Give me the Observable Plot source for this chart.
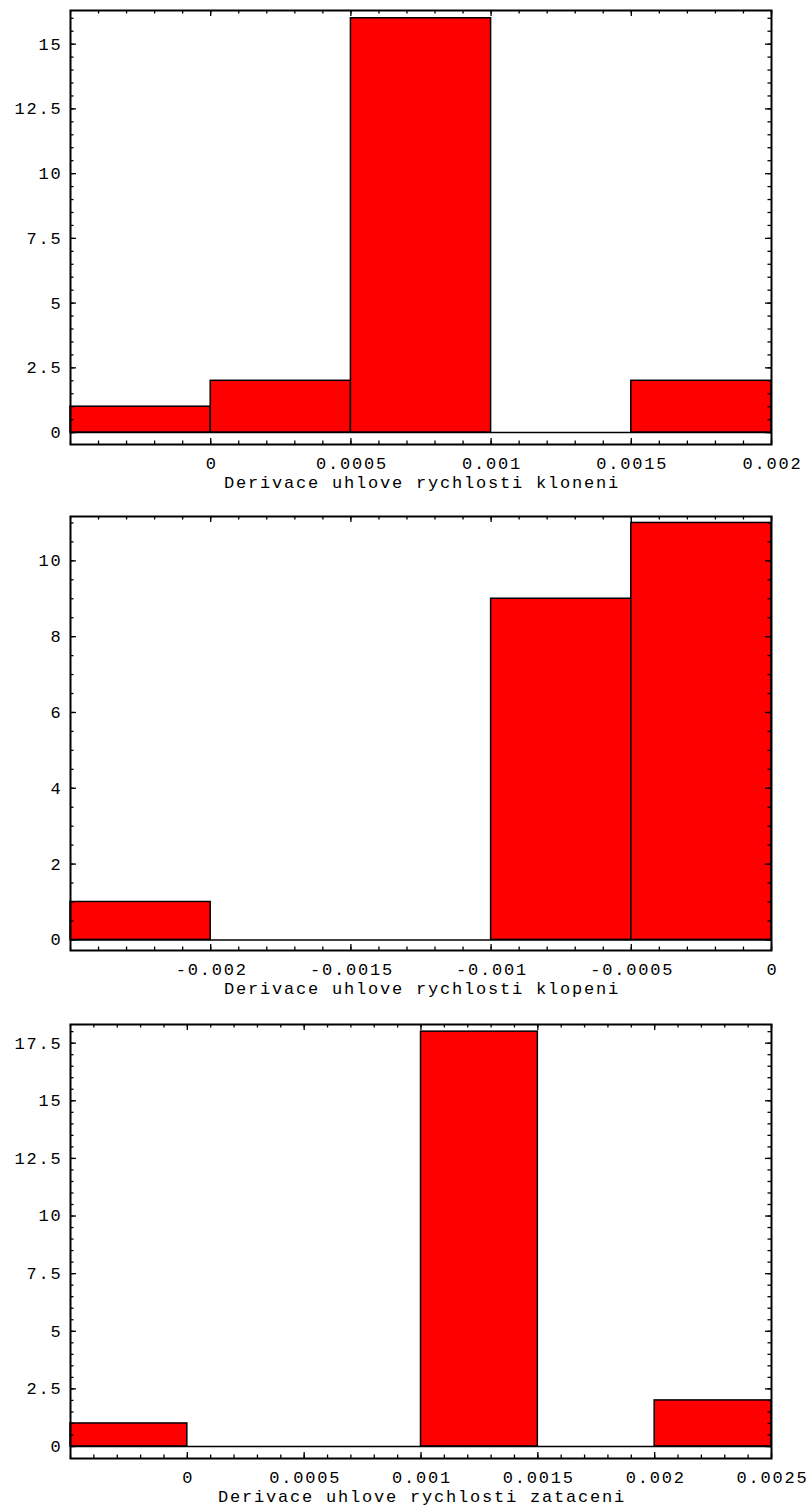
<!DOCTYPE html>
<html>
<head>
<meta charset="utf-8">
<script src="https://cdn.jsdelivr.net/npm/d3@7"></script>
<script src="https://cdn.jsdelivr.net/npm/@observablehq/plot@0.6"></script>
<style>
  html, body { margin: 0; padding: 0; background: white; }
  #charts svg { display: block; }
</style>
</head>
<body>
<div id="charts"></div>
<script>
// Histogram of the roll-rate derivative (kloneni)
const edgesKloneni = [-0.0005, 0, 0.0005, 0.001, 0.0015, 0.002];
const countsKloneni = [1, 2, 16, 0, 2];
const xLabelsKloneni = [0, 0.0005, 0.001, 0.0015, 0.002];
const yLabelsKloneni = [0, 2.5, 5, 7.5, 10, 12.5, 15];

// Histogram of the pitch-rate derivative (klopeni)
const edgesKlopeni = [-0.0025, -0.002, -0.0015, -0.001, -0.0005, 0];
const countsKlopeni = [1, 0, 0, 9, 11];
const xLabelsKlopeni = [-0.002, -0.0015, -0.001, -0.0005, 0];
const yLabelsKlopeni = [0, 2, 4, 6, 8, 10];

// Histogram of the yaw-rate derivative (zataceni)
const edgesZataceni = [-0.0005, 0, 0.0005, 0.001, 0.0015, 0.002, 0.0025];
const countsZataceni = [1, 0, 0, 18, 0, 2];
const xLabelsZataceni = [0, 0.0005, 0.001, 0.0015, 0.002, 0.0025];
const yLabelsZataceni = [0, 2.5, 5, 7.5, 10, 12.5, 15, 17.5];

const titles = [
  "Derivace uhlove rychlosti kloneni",
  "Derivace uhlove rychlosti klopeni",
  "Derivace uhlove rychlosti zataceni"
];

const W = 807, left = 70, right = 36;
const frameW = W - left - right;
const frameH = 434;
const majorLen = 6, minorLen = 3.5;

function steps(a, b, step) {
  const n = Math.round((b - a) / step);
  return d3.range(n + 1).map(i => +(a + i * step).toFixed(6));
}

function histogram({edges, counts, xLabels, yLabels, yDomain, yMinorMax, title, height, marginTop, marginBottom}) {
  const bins = counts.map((c, i) => ({x1: edges[i], x2: edges[i + 1], count: c}));
  const xDomain = [edges[0], edges[edges.length - 1]];
  const xMinor = steps(xDomain[0], xDomain[1], 0.0001);
  const yMinor = steps(0, yMinorMax, 0.5);
  const tickStyle = {stroke: "black", strokeWidth: 1.3};
  return Plot.plot({
    width: W,
    height,
    marginLeft: left,
    marginRight: right,
    marginTop,
    marginBottom,
    style: {fontFamily: "'Liberation Mono', 'DejaVu Sans Mono', monospace", fontSize: "17px", letterSpacing: "1.8px", background: "white", color: "black", overflow: "visible"},
    x: {domain: xDomain},
    y: {domain: yDomain},
    marks: [
      Plot.rect(bins, {x1: "x1", x2: "x2", y1: 0, y2: "count", fill: "#ff0000", stroke: "black", strokeWidth: 1.5}),
      Plot.ruleY([0], {stroke: "black", strokeWidth: 1.5}),
      // inward frame ticks: bottom, top, left, right
      Plot.tickX(xMinor, {x: d => d, insetTop: frameH - minorLen, ...tickStyle}),
      Plot.tickX(xLabels, {x: d => d, insetTop: frameH - majorLen, ...tickStyle}),
      Plot.tickX(xMinor, {x: d => d, insetBottom: frameH - minorLen, ...tickStyle}),
      Plot.tickX(xLabels, {x: d => d, insetBottom: frameH - majorLen, ...tickStyle}),
      Plot.tickY(yMinor, {y: d => d, insetRight: frameW - minorLen, ...tickStyle}),
      Plot.tickY(yLabels, {y: d => d, insetRight: frameW - majorLen, ...tickStyle}),
      Plot.tickY(yMinor, {y: d => d, insetLeft: frameW - minorLen, ...tickStyle}),
      Plot.tickY(yLabels, {y: d => d, insetLeft: frameW - majorLen, ...tickStyle}),
      Plot.frame({stroke: "black", strokeWidth: 2}),
      Plot.axisX({anchor: "bottom", ticks: xLabels, tickSize: 0, tickPadding: 12, dx: 1, tickFormat: d => String(d), label: null, fill: "#000"}),
      Plot.axisY({anchor: "left", ticks: yLabels, tickSize: 0, tickPadding: 8, tickFormat: d => String(d), label: null, fill: "#000"}),
      Plot.text([title], {text: d => d, frameAnchor: "bottom", dy: 38, dx: 1, lineAnchor: "middle", fill: "#000"})
    ]
  });
}

const host = document.getElementById("charts");
host.append(histogram({
  edges: edgesKloneni, counts: countsKloneni, xLabels: xLabelsKloneni, yLabels: yLabelsKloneni,
  yDomain: [-0.46, 16.3], yMinorMax: 16, title: titles[0],
  height: 500, marginTop: 10, marginBottom: 56
}));
host.append(histogram({
  edges: edgesKlopeni, counts: countsKlopeni, xLabels: xLabelsKlopeni, yLabels: yLabelsKlopeni,
  yDomain: [-0.28, 11.17], yMinorMax: 11, title: titles[1],
  height: 510, marginTop: 16, marginBottom: 60
}));
host.append(histogram({
  edges: edgesZataceni, counts: countsZataceni, xLabels: xLabelsZataceni, yLabels: yLabelsZataceni,
  yDomain: [-0.52, 18.31], yMinorMax: 18, title: titles[2],
  height: 496, marginTop: 14, marginBottom: 48
}));
</script>
</body>
</html>
